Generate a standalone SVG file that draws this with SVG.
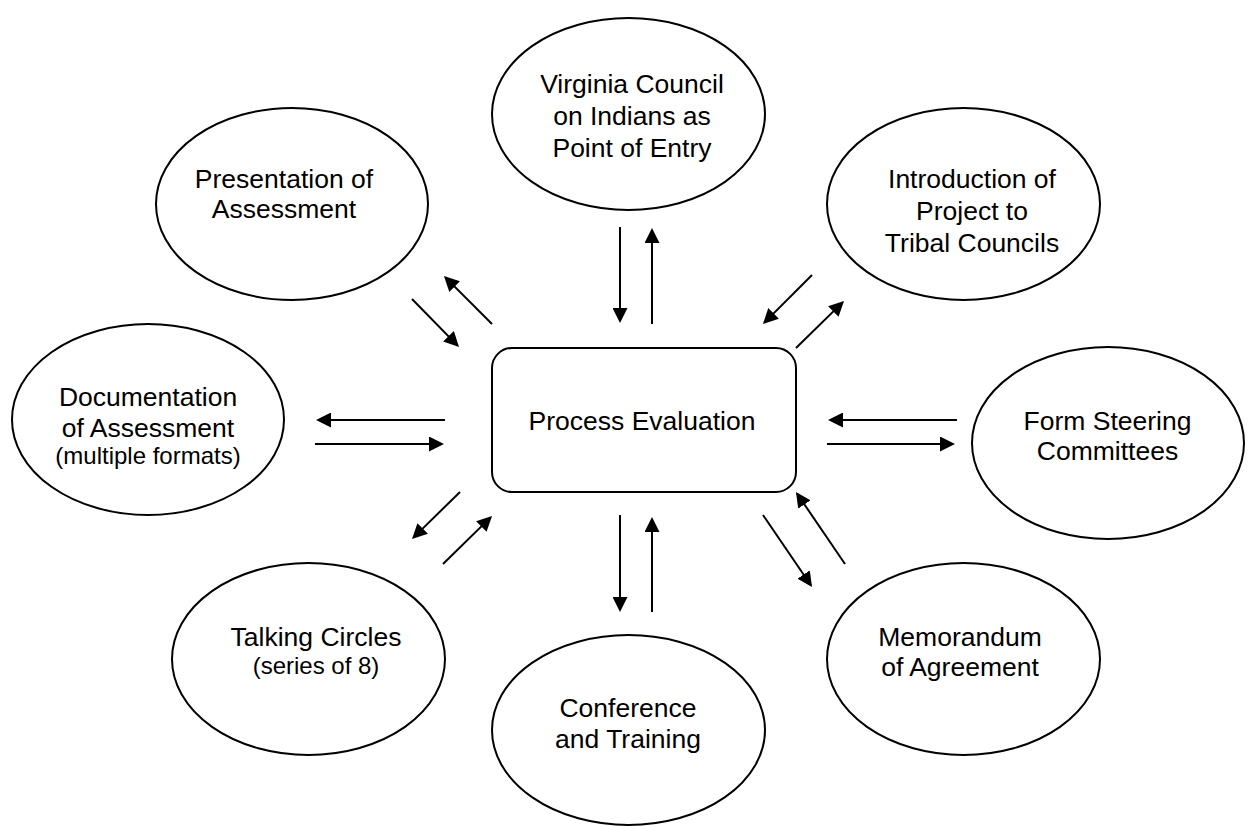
<svg xmlns="http://www.w3.org/2000/svg" width="1248" height="826" viewBox="0 0 1248 826">
<style>
.n{fill:#fff;stroke:#000;stroke-width:2}
.t{font-family:"Liberation Sans",Arial,sans-serif;font-size:26.5px;fill:#000;text-anchor:middle}
.s{font-size:24px}
.c line{stroke:#000;stroke-width:2;marker-end:url(#ah)}
</style>
<defs>
<marker id="ah" markerUnits="userSpaceOnUse" markerWidth="15" markerHeight="15" refX="13" refY="7.5" orient="auto">
<path d="M0,0 L15,7.5 L0,15 z" fill="#000"/>
</marker>
</defs>
<rect width="1248" height="826" fill="#fff"/>
<g id="center">
<rect class="n" x="492" y="348" width="304" height="144" rx="20"/>
<text class="t" x="642" y="430">Process Evaluation</text>
</g>
<g id="virginia">
<ellipse class="n" cx="628.5" cy="114" rx="136.5" ry="96"/>
<text class="t" x="632" y="93">Virginia Council</text>
<text class="t" x="632" y="125">on Indians as</text>
<text class="t" x="632" y="157">Point of Entry</text>
</g>
<g id="presentation">
<ellipse class="n" cx="292" cy="204" rx="136" ry="96"/>
<text class="t" x="284" y="188">Presentation of</text>
<text class="t" x="284" y="218">Assessment</text>
</g>
<g id="introduction">
<ellipse class="n" cx="963.5" cy="204" rx="136.5" ry="96"/>
<text class="t" x="972" y="188">Introduction of</text>
<text class="t" x="972" y="220">Project to</text>
<text class="t" x="972" y="252">Tribal Councils</text>
</g>
<g id="documentation">
<ellipse class="n" cx="148" cy="419.5" rx="136" ry="95.5"/>
<text class="t" x="148" y="406">Documentation</text>
<text class="t" x="148" y="437">of Assessment</text>
<text class="t s" x="148" y="464">(multiple formats)</text>
</g>
<g id="steering">
<ellipse class="n" cx="1108" cy="443" rx="136" ry="96"/>
<text class="t" x="1107.5" y="430">Form Steering</text>
<text class="t" x="1107.5" y="460">Committees</text>
</g>
<g id="talking">
<ellipse class="n" cx="308.5" cy="659" rx="136.5" ry="96"/>
<text class="t" x="316" y="646">Talking Circles</text>
<text class="t s" x="316" y="674">(series of 8)</text>
</g>
<g id="conference">
<ellipse class="n" cx="628.5" cy="730" rx="136.5" ry="95"/>
<text class="t" x="628" y="717">Conference</text>
<text class="t" x="628" y="748">and Training</text>
</g>
<g id="memorandum">
<ellipse class="n" cx="963.5" cy="659" rx="136.5" ry="96"/>
<text class="t" x="960" y="646">Memorandum</text>
<text class="t" x="960" y="676">of Agreement</text>
</g>
<g id="connectors" class="c">
<line x1="620" y1="227" x2="620" y2="321"/>
<line x1="652" y1="324" x2="652" y2="230"/>
<line x1="412" y1="299" x2="457.6" y2="345.6"/>
<line x1="492" y1="324" x2="445.4" y2="277.4"/>
<line x1="812" y1="275" x2="764.4" y2="322.6"/>
<line x1="796" y1="348" x2="842.6" y2="302.4"/>
<line x1="445" y1="420" x2="318" y2="420"/>
<line x1="315" y1="444" x2="442" y2="444"/>
<line x1="957" y1="420" x2="830" y2="420"/>
<line x1="827" y1="444" x2="953" y2="444"/>
<line x1="460" y1="492" x2="413.4" y2="537.6"/>
<line x1="443" y1="564" x2="490.6" y2="517.4"/>
<line x1="620" y1="515" x2="620" y2="610"/>
<line x1="652" y1="612" x2="652" y2="519"/>
<line x1="763" y1="515" x2="810.9" y2="585.3"/>
<line x1="845" y1="564" x2="797.1" y2="493.7"/>
</g>
</svg>
